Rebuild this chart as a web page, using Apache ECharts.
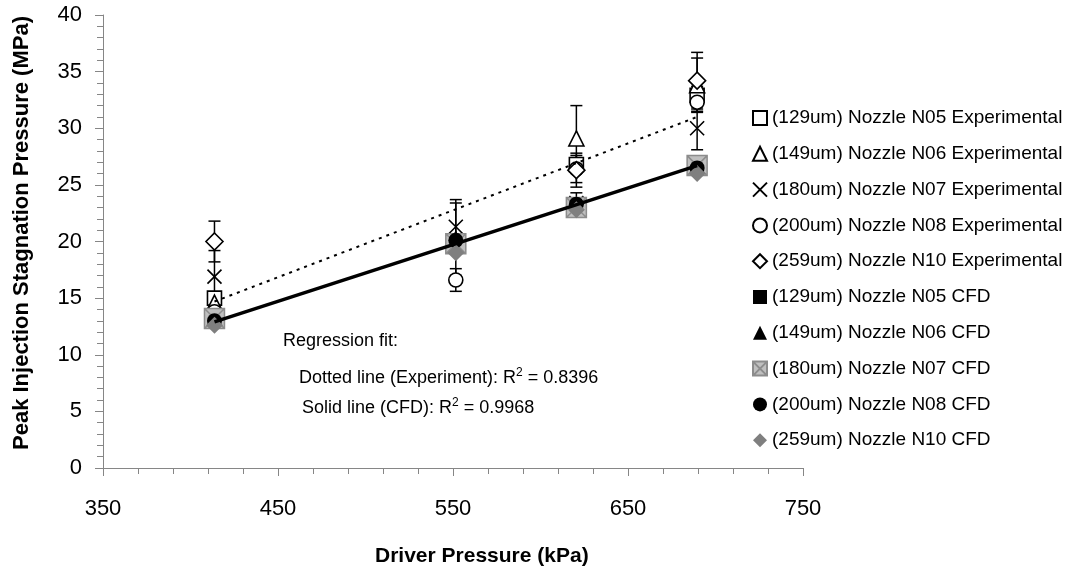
<!DOCTYPE html>
<html><head><meta charset="utf-8">
<script src="https://cdn.jsdelivr.net/npm/echarts/dist/echarts.min.js"></script>
<style>html,body{margin:0;padding:0;background:#fff}#c{width:1069px;height:571px}</style>
</head><body><div id="c"></div>
<script>
// Driver pressure (kPa) for each test condition
const driverPressure = [413.7, 551.6, 620.5, 689.5];
// Experimental peak stagnation pressure (MPa) and error half-widths
const expN05 = [15.0, 20.0, 26.8, 32.9];
const errN05 = [0.5, 0.6, 0.6, 0.8];
const expN06 = [14.6, 20.2, 29.1, 33.8];
const errN06 = [0.5, 3.2, 2.9, 2.4];
const expN07 = [16.9, 21.3, 23.4, 30.0];
const errN07 = [2.3, 2.4, 0.9, 1.9];
const expN08 = [13.8, 16.6, 26.4, 32.3];
const errN08 = [0.6, 1.0, 1.2, 0.8];
const expN10 = [20.0, 19.8, 26.3, 34.2];
const errN10 = [1.8, 0.6, 1.5, 2.5];
// CFD peak stagnation pressure (MPa)
const cfdN05 = [13.0, 20.0, 23.1, 26.5];
const cfdN06 = [13.1, 20.1, 23.2, 26.6];
const cfdN07 = [13.2, 19.8, 23.0, 26.7];
const cfdN08 = [13.0, 20.1, 23.3, 26.5];
const cfdN10 = [12.6, 19.0, 22.8, 26.0];
// Regression fit end points (x in kPa, y in MPa)
const fitX = [413.7, 689.5];
const fitExp = [14.7, 31.0];
const fitCfd = [12.9, 26.7];
// Names
const names = [
  '(129um) Nozzle N05 Experimental', '(149um) Nozzle N06 Experimental',
  '(180um) Nozzle N07 Experimental', '(200um) Nozzle N08 Experimental',
  '(259um) Nozzle N10 Experimental', '(129um) Nozzle N05 CFD',
  '(149um) Nozzle N06 CFD', '(180um) Nozzle N07 CFD',
  '(200um) Nozzle N08 CFD', '(259um) Nozzle N10 CFD'
];

const FONT = 'Liberation Sans';
const pts = v => driverPressure.map((x, i) => [x, v[i]]);
const X_PATH = 'path://M0,0L10,10M10,0L0,10';
const XBOX_PATH = 'path://M0,0L10,0L10,10L0,10ZM0,0L10,10M10,0L0,10';

function expS(name, vals, symbol, size) {
  return { type: 'scatter', name, data: pts(vals), symbol, symbolSize: size, z: 3,
    itemStyle: { color: '#fff', borderColor: '#000', borderWidth: 1.6, opacity: 1 } };
}
function cfdS(name, vals, symbol, size, fill, stroke, bw) {
  return { type: 'scatter', name, data: pts(vals), symbol, symbolSize: size, z: 4,
    itemStyle: { color: fill, borderColor: stroke, borderWidth: bw, opacity: 1 } };
}

const expSets = [[expN05, errN05], [expN06, errN06], [expN07, errN07], [expN08, errN08], [expN10, errN10]];
const errItems = [];
expSets.forEach(([v, e]) => v.forEach((y, i) => errItems.push([driverPressure[i], y - e[i], y + e[i]])));

const chart = echarts.init(document.getElementById('c'), null, { renderer: 'canvas' });
const series = [
  { type: 'custom', name: 'err', z: 2, silent: true, data: errItems,
    encode: { x: 0, y: [1, 2] },
    renderItem: (params, api) => {
      const lo = api.coord([api.value(0), api.value(1)]);
      const hi = api.coord([api.value(0), api.value(2)]);
      const x = lo[0], w = 6;
      const st = { stroke: '#000', lineWidth: 1.5 };
      return { type: 'group', children: [
        { type: 'line', shape: { x1: x, y1: lo[1], x2: x, y2: hi[1] }, style: st },
        { type: 'line', shape: { x1: x - w, y1: lo[1], x2: x + w, y2: lo[1] }, style: st },
        { type: 'line', shape: { x1: x - w, y1: hi[1], x2: x + w, y2: hi[1] }, style: st }
      ] };
    } },
  expS(names[0], expN05, 'rect', 14),
  expS(names[1], expN06, 'triangle', 15),
  expS(names[2], expN07, X_PATH, 14),
  expS(names[3], expN08, 'circle', 14),
  expS(names[4], expN10, 'diamond', 17),
  cfdS(names[5], cfdN05, 'rect', 12, '#000', '#000', 0),
  cfdS(names[6], cfdN06, 'triangle', 14, '#000', '#000', 0),
  cfdS(names[7], cfdN07, XBOX_PATH, 20, '#BFBFBF', '#8C8C8C', 1.5),
  cfdS(names[8], cfdN08, 'circle', 15, '#000', '#000', 0),
  cfdS(names[9], cfdN10, 'diamond', 17, '#7F7F7F', '#7F7F7F', 0),
  { type: 'line', name: 'fitExp', z: 6, silent: true, symbol: 'none',
    data: fitX.map((x, i) => [x, fitExp[i]]),
    lineStyle: { color: '#000', width: 2, type: [3, 5] } },
  { type: 'line', name: 'fitCfd', z: 6, silent: true, symbol: 'none',
    data: fitX.map((x, i) => [x, fitCfd[i]]),
    lineStyle: { color: '#000', width: 3.5 } }
];

const sup = () => ({ a: { fontFamily: FONT, fontSize: 18, color: '#000', lineHeight: 22 },
  s: { fontFamily: FONT, fontSize: 12, color: '#000', lineHeight: 22, verticalAlign: 'top' } });

chart.setOption({
  animation: false,
  backgroundColor: '#fff',
  grid: { left: 103, right: 266, top: 15, bottom: 103, outerBoundsMode: 'none', containLabel: false },
  xAxis: {
    type: 'value', min: 350, max: 750, interval: 100,
    axisLine: { show: true, lineStyle: { color: '#868686', width: 1 } },
    axisTick: { show: true, length: 8, lineStyle: { color: '#868686' } },
    minorTick: { show: true, splitNumber: 5, length: 6, lineStyle: { color: '#868686' } },
    splitLine: { show: false },
    axisLabel: { fontFamily: FONT, fontSize: 22, color: '#000', margin: 30 }
  },
  yAxis: {
    type: 'value', min: 0, max: 40, interval: 5,
    axisLine: { show: true, lineStyle: { color: '#868686', width: 1 } },
    axisTick: { show: true, length: 8, lineStyle: { color: '#868686' } },
    minorTick: { show: true, splitNumber: 5, length: 6, lineStyle: { color: '#868686' } },
    splitLine: { show: false },
    axisLabel: { fontFamily: FONT, fontSize: 22, color: '#000', margin: 21 }
  },
  legend: {
    orient: 'vertical', left: 747, top: 103, itemWidth: 14, itemHeight: 14, itemGap: 15.8,
    selectedMode: false, data: names,
    textStyle: { fontFamily: FONT, fontSize: 19, color: '#000', lineHeight: 20 }
  },
  graphic: [
    { type: 'text', left: 375, top: 546, style: { text: 'Driver Pressure (kPa)', fontFamily: FONT, fontSize: 21, fontWeight: 'bold', fill: '#000' } },
    { type: 'text', x: 22, y: 233, rotation: Math.PI / 2,
      style: { text: 'Peak Injection Stagnation Pressure (MPa)', fontFamily: FONT, fontSize: 22, fontWeight: 'bold', fill: '#000', align: 'center', verticalAlign: 'middle' } },
    { type: 'text', left: 283, top: 332, style: { text: 'Regression fit:', fontFamily: FONT, fontSize: 18, fill: '#000' } },
    { type: 'text', left: 299, top: 367, style: { text: '{a|Dotted line (Experiment): R}{s|2}{a| = 0.8396}', rich: sup() } },
    { type: 'text', left: 302, top: 397, style: { text: '{a|Solid line (CFD): R}{s|2}{a| = 0.9968}', rich: sup() } }
  ],
  series
});
</script>
</body></html>
